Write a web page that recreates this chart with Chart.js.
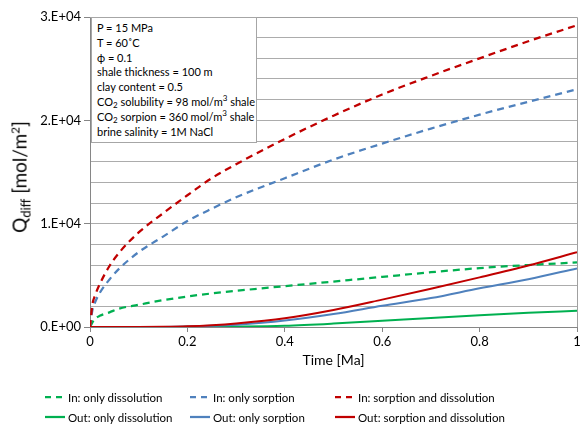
<!DOCTYPE html>
<html><head><meta charset="utf-8">
<script src="https://cdn.jsdelivr.net/npm/chart.js@4"></script>
<style>
html,body{margin:0;padding:0;background:#fff;}
#wrap{position:relative;width:586px;height:426px;font-family:Lato,"Open Sans",sans-serif;color:#000;overflow:hidden;}
#c{position:absolute;left:0;top:0;}
#ytitle{position:absolute;left:19px;top:177px;transform:translate(-50%,-50%) rotate(-90deg);font-size:19px;white-space:nowrap;}
#ytitle sub{font-size:13px;vertical-align:-4px;line-height:0;}
#ytitle sup{font-size:12px;vertical-align:7px;line-height:0;}
#note{position:absolute;left:91px;top:17px;width:166px;height:126px;border:1px solid #a6a6a6;background:#fff;font-size:11px;line-height:14.8px;padding:3px 0 0 5px;box-sizing:border-box;white-space:nowrap;}
#note sub{font-size:8px;vertical-align:-2px;line-height:0;}
#note sup{font-size:8px;vertical-align:5px;line-height:0;}
.item{position:absolute;display:flex;align-items:center;white-space:nowrap;font-size:11.5px;height:16px;}
.item svg{margin-right:3px;}
</style>
</head><body>
<div id="wrap">
<canvas id="c" width="586" height="426"></canvas>
<div id="ytitle">Q<sub>diff</sub> [mol/m<sup>2</sup>]</div>
<div id="note">P = 15 MPa<br>T = 60˚C<br>ϕ = 0.1<br>shale thickness = 100 m<br>clay content = 0.5<br>CO<sub>2</sub> solubility = 98 mol/m<sup>3</sup> shale<br>CO<sub>2</sub> sorpion = 360 mol/m<sup>3</sup> shale<br>brine salinity = 1M NaCl</div>
<div id="legend"></div>
</div>
<script>
// ---- data ----
const time = [0, 0.005, 0.01, 0.02, 0.04, 0.06, 0.1, 0.15, 0.2, 0.25, 0.3, 0.4, 0.5, 0.6, 0.7, 0.8, 0.9, 1.0];
const inOnlyDissolution = [0, 450, 780, 1080, 1420, 1780, 2150, 2600, 2950, 3250, 3500, 3950, 4400, 4850, 5300, 5700, 6000, 6250];
const inOnlySorption = [0, 1650, 2350, 3300, 4600, 5650, 7250, 8750, 10250, 11450, 12550, 14400, 16200, 17750, 19200, 20550, 21800, 23000];
const inSorptionDissolution = [0, 2200, 3000, 4150, 5900, 7200, 9150, 11000, 12750, 14400, 15750, 18200, 20450, 22500, 24300, 26000, 27650, 29200];
const outOnlyDissolution = [0, 0, 0, 0, 0, 0, 0, 5, 15, 25, 40, 120, 330, 600, 880, 1140, 1370, 1580];
const outOnlySorption = [0, 0, 0, 0, 0, 0, 0, 10, 40, 110, 220, 620, 1250, 2050, 2800, 3740, 4620, 5670];
const outSorptionDissolution = [0, 0, 0, 0, 0, 0, 0, 20, 70, 180, 350, 850, 1650, 2650, 3700, 4800, 5950, 7230];
const seriesNames = ["In: only dissolution", "In: only sorption", "In: sorption and dissolution",
                     "Out: only dissolution", "Out: only sorption", "Out: sorption and dissolution"];
const xTickLabels = ["0", "0.2", "0.4", "0.6", "0.8", "1"];
const yTickLabels = ["0.E+00", "1.E+04", "2.E+04", "3.E+04"];

const GREEN = "#00B050", BLUE = "#4F81BD", RED = "#C00000";
const DASH = [7, 5];
const seriesValues = [inOnlyDissolution, inOnlySorption, inSorptionDissolution,
                      outOnlyDissolution, outOnlySorption, outSorptionDissolution];
const colors = [GREEN, BLUE, RED, GREEN, BLUE, RED];
const dashed = [true, true, true, false, false, false];
const orders = [5, 4, 3, 2, 1, 0];

const datasets = seriesValues.map((vals, i) => ({
  label: seriesNames[i],
  data: time.map((t, j) => ({x: t, y: vals[j]})),
  borderColor: colors[i],
  backgroundColor: colors[i],
  borderWidth: dashed[i] ? 2.25 : 2,
  borderDash: dashed[i] ? DASH : [],
  pointRadius: 0,
  cubicInterpolationMode: "monotone",
  fill: false,
  order: orders[i]
}));

// plot-area frame (top and right edges)
const frame = {
  id: "frame",
  beforeDatasetsDraw(chart) {
    const a = chart.chartArea, c = chart.ctx;
    c.save();
    c.strokeStyle = "#a0a0a0"; c.lineWidth = 1;
    c.beginPath();
    c.moveTo(a.left, a.top + 0.5); c.lineTo(a.right + 0.5, a.top + 0.5); c.lineTo(a.right + 0.5, a.bottom);
    c.stroke();
    c.restore();
  }
};

const tickFont = {family: "Lato", size: 13};
new Chart(document.getElementById("c"), {
  type: "line",
  data: {datasets},
  plugins: [frame],
  options: {
    responsive: false, animation: false,
    layout: {padding: {left: 0, top: 17, right: 9, bottom: 57}},
    plugins: {legend: {display: false}, tooltip: {enabled: false}},
    scales: {
      x: {
        type: "linear", min: 0, max: 1,
        ticks: {stepSize: 0.2, color: "#000", font: tickFont, padding: 2, maxRotation: 0, autoSkip: false,
                callback: (v, i) => xTickLabels[i]},
        grid: {drawOnChartArea: false, tickLength: 5, tickColor: "#868686"},
        border: {color: "#868686"},
        title: {display: true, text: "Time [Ma]", color: "#000", font: {family: "Lato", size: 14}, padding: {top: 0, bottom: 0}},
        afterFit: s => { s.height = 42; }
      },
      y: {
        type: "linear", min: 0, max: 30000,
        ticks: {stepSize: 2000, color: "#000", font: tickFont, padding: 3, autoSkip: false,
                callback: v => (v % 10000 === 0 ? yTickLabels[v / 10000] : " ")},
        grid: {color: "#acacac", lineWidth: 1, tickLength: 6,
               tickColor: ctx => (ctx.tick && ctx.tick.value % 10000 === 0 ? "#868686" : "rgba(255,255,255,0)")},
        border: {color: "#868686"},
        afterFit: s => { s.width = 90; }
      }
    }
  }
});

// HTML legend (3 columns x 2 rows)
const legendPos = [[45, 389], [190, 389], [335, 389], [45, 409], [190, 409], [335, 409]];
const leg = document.getElementById("legend");
seriesNames.forEach((name, i) => {
  const d = document.createElement("div");
  d.className = "item";
  d.style.left = legendPos[i][0] + "px";
  d.style.top = legendPos[i][1] + "px";
  const dash = dashed[i] ? 'stroke-dasharray="6 5"' : "";
  d.innerHTML = `<svg width="20" height="4"><line x1="0" y1="2" x2="20" y2="2" stroke="${colors[i]}" stroke-width="2.25" ${dash}/></svg><span>${name}</span>`;
  leg.appendChild(d);
});
</script>
</body></html>
